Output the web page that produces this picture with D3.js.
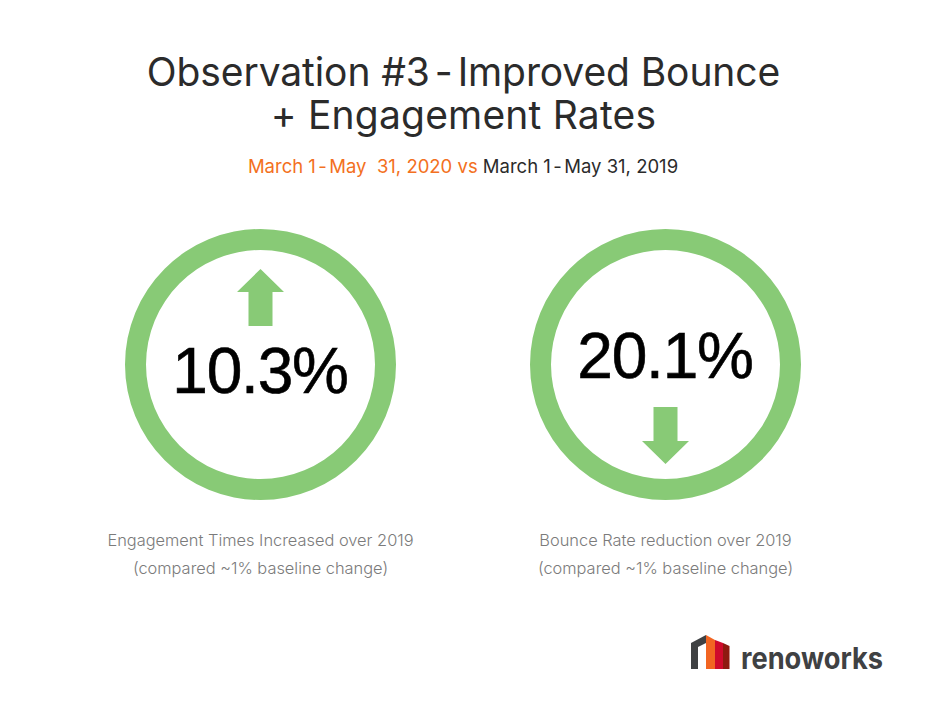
<!DOCTYPE html>
<html>
<head>
<meta charset="utf-8">
<script src="https://cdn.jsdelivr.net/npm/d3@7"></script>
<style>
  html, body { margin: 0; padding: 0; background: #fff; }
  svg { display: block; }
  text { font-family: Inter, sans-serif; }
  .tight { word-spacing: -0.15em; }
</style>
</head>
<body>
<div id="chart"></div>
<script>
// Data
const titleLines = [['Observation #3', ' - ', 'Improved Bounce'], ['+ Engagement Rates']];
const subtitleCurrent = [['March 1', ' - ', 'May  31, 2020 vs ']];
const subtitleBaseline = [['March 1', ' - ', 'May 31, 2019']];
const metricValues = ['10.3%', '20.1%'];
const metricDirections = ['up', 'down'];
const metricCaptions = [
    ['Engagement Times Increased over 2019', '(compared ~1% baseline change)'],
    ['Bounce Rate reduction over 2019', '(compared ~1% baseline change)']
];
const logoBars = ['#3f4143', '#f26522', '#cf0a2c', '#8e1a10'];

// Constants
const WIDTH = 926, HEIGHT = 707;
const COLORS = { ring: '#88ca76', title: '#2b2b2b', orange: '#f37021', caption: '#7b7b7b', logo: '#3f4143' };

const svg = d3.select('#chart').append('svg')
    .attr('width', WIDTH)
    .attr('height', HEIGHT)
    .attr('viewBox', `0 0 ${WIDTH} ${HEIGHT}`);

// Text runs, with the " - " pieces set tight like the original
function addRuns(parent, parts, fill) {
    parts.forEach(part => {
        const span = parent.append('tspan').attr('fill', fill).text(part);
        if (part === ' - ') span.attr('class', 'tight');
    });
}

// Title
svg.selectAll('.title')
    .data(titleLines)
    .enter()
    .append('text')
    .attr('class', 'title')
    .attr('x', 463.5)
    .attr('y', (d, i) => 86 + i * 43)
    .attr('text-anchor', 'middle')
    .attr('font-size', 39)
    .attr('letter-spacing', (d, i) => i === 0 ? -0.1 : 0.2)
    .attr('fill', COLORS.title)
    .each(function (d) { addRuns(d3.select(this), d, COLORS.title); });

// Subtitle
const sub = svg.append('text')
    .attr('x', 463)
    .attr('y', 173)
    .attr('text-anchor', 'middle')
    .attr('font-size', 18.5)
    .style('white-space', 'pre');
addRuns(sub, subtitleCurrent[0], COLORS.orange);
addRuns(sub, subtitleBaseline[0], COLORS.title);

// Metric rings
const x = d3.scalePoint().domain(d3.range(metricValues.length)).range([260.5, 665.5]);
const ringY = 364.5;
const arc = d3.arc().innerRadius(114.5).outerRadius(135.5).startAngle(0).endAngle(2 * Math.PI);

// Arrow outline pointing up, tip at 0,0
const arrowShape = d3.line()([[0, 0], [23.5, 23], [12, 23], [12, 57], [-12, 57], [-12, 23], [-23.5, 23]]) + 'Z';

const metric = svg.selectAll('.metric')
    .data(metricValues)
    .enter()
    .append('g')
    .attr('class', 'metric')
    .attr('transform', (d, i) => `translate(${x(i)},${ringY})`);

metric.append('path')
    .attr('d', arc())
    .attr('fill', COLORS.ring);

metric.append('path')
    .attr('d', arrowShape)
    .attr('fill', COLORS.ring)
    .attr('transform', (d, i) => metricDirections[i] === 'up' ? 'translate(0,-95.5)' : 'translate(0,99.5) scale(1,-1)');

metric.append('text')
    .attr('x', -0.5)
    .attr('y', (d, i) => metricDirections[i] === 'up' ? 28.5 : 13.5)
    .attr('text-anchor', 'middle')
    .attr('font-size', 64)
    .attr('letter-spacing', -1.2)
    .attr('stroke', '#000')
    .attr('stroke-width', 0.6)
    .style('font-family', '"Liberation Sans", Arial, sans-serif')
    .attr('fill', '#000')
    .text(d => d);

// Captions
metricCaptions.forEach((lines, i) => {
    svg.selectAll(`.caption-${i}`)
        .data(lines)
        .enter()
        .append('text')
        .attr('class', `caption-${i}`)
        .attr('x', x(i))
        .attr('y', (d, j) => 546 + j * 28)
        .attr('text-anchor', 'middle')
        .attr('font-size', 16.4)
        .attr('font-weight', 300)
        .attr('fill', COLORS.caption)
        .text(d => d);
});

// Logo
const logo = svg.append('g').attr('transform', 'translate(691,635)');
logo.append('path')
    .attr('d', 'M0,8 L15,0 L15,8 L7,12 L7,34 L0,34Z')
    .attr('fill', logoBars[0]);
logo.append('path').attr('d', 'M15,0 L24,5 L24,34 L15,34Z').attr('fill', logoBars[1]);
logo.append('path').attr('d', 'M24,5 L32,8 L32,34 L24,34Z').attr('fill', logoBars[2]);
logo.append('path').attr('d', 'M32,8 L38.5,11 L38.5,34 L32,34Z').attr('fill', logoBars[3]);
svg.append('text')
    .attr('x', 741)
    .attr('y', 669)
    .attr('font-size', 30)
    .attr('font-weight', 700)
    .attr('textLength', 142)
    .attr('lengthAdjust', 'spacingAndGlyphs')
    .attr('fill', COLORS.logo)
    .text('renoworks');
</script>
</body>
</html>
